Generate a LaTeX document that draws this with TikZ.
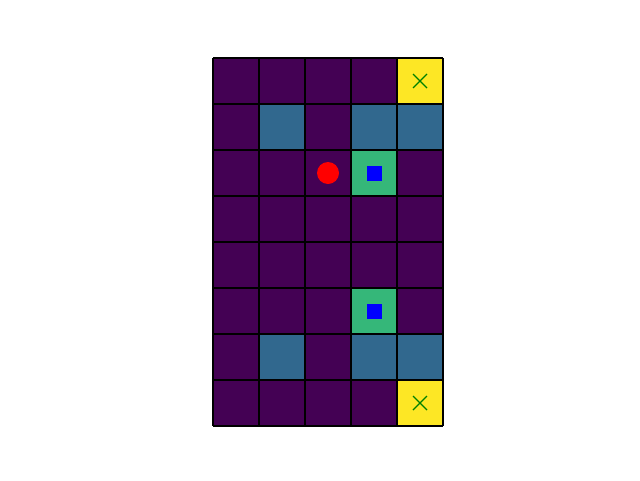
\documentclass[tikz,border=0pt]{standalone}
\usetikzlibrary{calc}
\definecolor{vpurple}{HTML}{440154}
\definecolor{vblue}{HTML}{31688E}
\definecolor{vgreen}{HTML}{35B779}
\definecolor{vyellow}{HTML}{FDE725}
\definecolor{mgreen}{HTML}{008000}
\tikzset{
  cellbox/.style={draw=black, line width=1.6pt},
  agentdot/.style={circle, fill=red, inner sep=0pt, minimum size=22pt},
  boxmark/.style={rectangle, fill=blue, inner sep=0pt, minimum size=15pt},
  goalmark/.style={draw=mgreen, line width=1.1pt}
}
\begin{document}
\begin{tikzpicture}[x=1pt,y=-1pt]
\useasboundingbox (0,0) rectangle (640,480);
\def\cs{46}
% grid: rows listed top to bottom, P=purple B=blue G=green Y=yellow
\foreach \r/\rowcols in {0/{P,P,P,P,Y},1/{P,B,P,B,B},2/{P,P,P,G,P},3/{P,P,P,P,P},4/{P,P,P,P,P},5/{P,P,P,G,P},6/{P,B,P,B,B},7/{P,P,P,P,Y}}{
  \foreach \c [count=\i from 0] in \rowcols {
    \if\c P\def\cc{vpurple}\fi
    \if\c B\def\cc{vblue}\fi
    \if\c G\def\cc{vgreen}\fi
    \if\c Y\def\cc{vyellow}\fi
    \fill[\cc] (213+\i*\cs,58+\r*\cs) rectangle ++(\cs,\cs);
  }
}
\foreach \i in {0,...,5} \draw[cellbox] (213+\i*\cs,58) -- (213+\i*\cs,426);
\foreach \j in {0,...,8} \draw[cellbox] (213,58+\j*\cs) -- (443,58+\j*\cs);
\node[agentdot] (agent) at (328,173) {};
\node[boxmark] (boxa) at (374,173) {};
\node[boxmark] (boxb) at (374,311) {};
\coordinate (goala) at (420,81);
\coordinate (goalb) at (420,403);
\draw[goalmark] ($(goala)+(-7,-7)$) -- ($(goala)+(7,7)$) ($(goala)+(-7,7)$) -- ($(goala)+(7,-7)$);
\draw[goalmark] ($(goalb)+(-7,-7)$) -- ($(goalb)+(7,7)$) ($(goalb)+(-7,7)$) -- ($(goalb)+(7,-7)$);
\end{tikzpicture}
\end{document}
